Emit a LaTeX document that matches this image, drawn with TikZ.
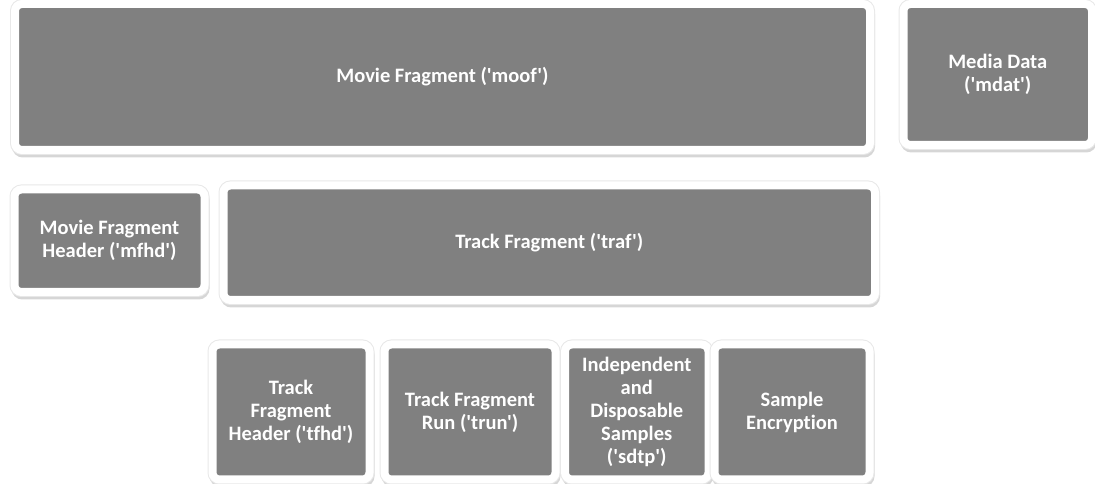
\documentclass[tikz,border=0pt]{standalone}
\usepackage{fontspec}
\usepackage{xcolor}
\usepackage{tikz}
\usetikzlibrary{positioning,shadows}
\newfontfamily\boxfont{Carlito}[Ligatures=NoCommon]
\definecolor{boxgrey}{RGB}{128,128,128}
\definecolor{boxshade}{RGB}{165,165,165}
\definecolor{boxhalo}{RGB}{232,232,232}
\tikzset{
  fragbox/.style={
    rectangle,
    rounded corners=7pt,
    draw=white,
    line width=8pt,
    outer sep=0pt,
    fill=boxgrey,
    text=white,
    align=center,
    inner sep=4pt,
    font=\boxfont\bfseries\fontsize{20.5}{23}\selectfont,
    drop shadow={shadow xshift=1pt, shadow yshift=-3.5pt, fill=boxshade, draw=boxshade, line width=8pt, opacity=0.45},
    preaction={draw=boxhalo, line width=10pt}
  }
}
\begin{document}
\begin{tikzpicture}
\useasboundingbox (0,0) rectangle (1095pt,484pt);
\node[fragbox, minimum width=855pt, minimum height=146pt, anchor=north west] (moof) at (15pt,480pt) {Movie Fragment ('moof')};
\node[fragbox, minimum width=188.5pt, minimum height=141pt, right=33.5pt of moof.north east, anchor=north west] (mdat) {Media Data\\('mdat')};
\node[fragbox, minimum width=190pt, minimum height=102.5pt, below=39.5pt of moof.south west, anchor=north west, xshift=-0.5pt] (mfhd) {Movie Fragment\\Header ('mfhd')};
\node[fragbox, minimum width=651.5pt, minimum height=114.5pt, right=19pt of mfhd.north east, anchor=north west, yshift=4pt] (traf) {Track Fragment ('traf')};

\node[fragbox, minimum width=157pt, minimum height=135pt, below=44.5pt of traf.south west, anchor=north west, xshift=-11pt] (tfhd) {Track\\Fragment\\Header ('tfhd')};
\node[fragbox, minimum width=171pt, minimum height=135pt, right=15pt of tfhd.north east, anchor=north west] (trun) {Track Fragment\\Run ('trun')};
\node[fragbox, minimum width=143.5pt, minimum height=135pt, right=9.5pt of trun.north east, anchor=north west] (sdtp) {Independent\\and\\Disposable\\Samples\\('sdtp')};
\node[fragbox, minimum width=155pt, minimum height=135pt, right=6pt of sdtp.north east, anchor=north west] (senc) {Sample\\Encryption};
\end{tikzpicture}
\end{document}
